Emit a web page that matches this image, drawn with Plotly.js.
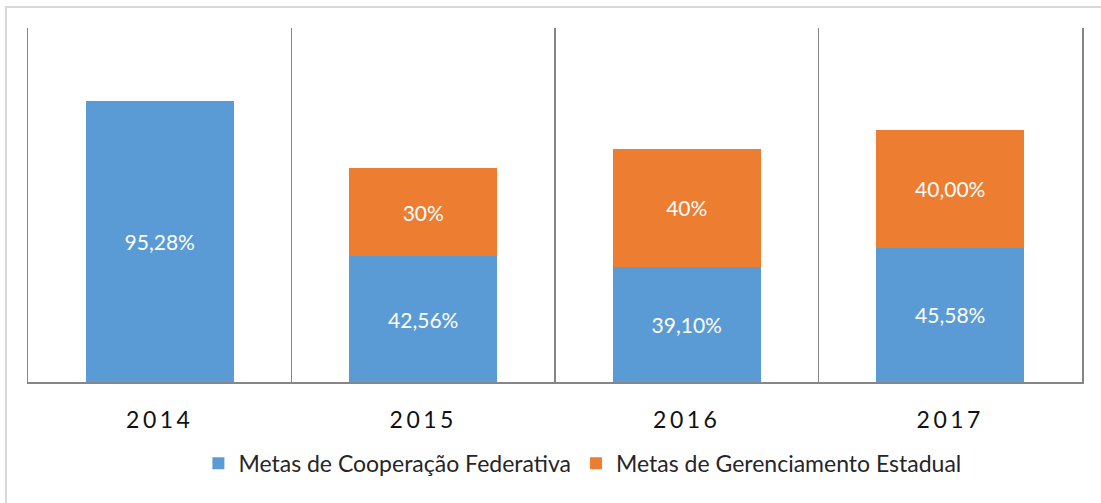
<!DOCTYPE html>
<html>
<head>
<meta charset="utf-8">
<script src="https://cdn.plot.ly/plotly-3.0.1.min.js"></script>
<style>
  html, body { margin: 0; padding: 0; background: #fff; }
  #chart { width: 1101px; height: 503px; position: relative; }
  #frame { position: absolute; left: 5px; top: 6px; width: 1200px; height: 600px; border: 2px solid #d9d9d9; pointer-events: none; }
  #wrap { position: relative; width: 1101px; height: 503px; overflow: hidden; }
  .xtick text { letter-spacing: 3.5px; }
</style>
</head>
<body>
<div id="wrap">
  <div id="chart"></div>
  <div id="frame"></div>
</div>
<script>
const years = ["2014", "2015", "2016", "2017"];
const federativa = [95.28, 42.56, 39.10, 45.58];
const federativaLabels = ["95,28%", "42,56%", "39,10%", "45,58%"];
const estadual = [0, 30, 40, 40];
const estadualLabels = ["", "30%", "40%", "40,00%"];
const seriesNames = ["Metas de Cooperação Federativa", "Metas de Gerenciamento Estadual"];

const fontFam = "Lato, 'Open Sans', sans-serif";

const traces = [
  {
    type: "bar", x: years, y: federativa, name: seriesNames[0],
    marker: { color: "#5B9BD5" },
    text: federativaLabels, textposition: "inside", insidetextanchor: "middle",
    textfont: { color: "#ffffff", size: 21, family: fontFam },
    hoverinfo: "none"
  },
  {
    type: "bar", x: years, y: estadual, name: seriesNames[1],
    marker: { color: "#ED7D31" },
    text: estadualLabels, textposition: "inside", insidetextanchor: "middle",
    textfont: { color: "#ffffff", size: 21, family: fontFam },
    hoverinfo: "none"
  }
];

const layout = {
  width: 1101, height: 503,
  margin: { l: 28, r: 19, t: 28, b: 121 },
  paper_bgcolor: "rgba(0,0,0,0)", plot_bgcolor: "#ffffff",
  barmode: "stack", bargap: 0.44,
  font: { family: fontFam, color: "#222222" },
  showlegend: true,
  legend: {
    orientation: "h", x: 0.526, xanchor: "center", y: -0.23, yanchor: "middle",
    font: { size: 23, family: fontFam, color: "#262626" },
    traceorder: "normal", itemwidth: 30
  },
  xaxis: {
    type: "category", showgrid: false, zeroline: false,
    showline: true, linecolor: "#868686", linewidth: 1.5,
    ticks: "", ticklabelstandoff: 17,
    tickfont: { size: 23, family: fontFam, color: "#111111" },
    fixedrange: true
  },
  xaxis2: {
    overlaying: "x", range: [-0.5, 3.5], showgrid: true,
    gridcolor: "#868686", gridwidth: 1.5,
    tickvals: [0.5, 1.5, 2.5], showticklabels: false,
    ticks: "", zeroline: false, showline: false, fixedrange: true
  },
  yaxis: {
    range: [0, 120], showgrid: false, zeroline: false,
    showline: true, mirror: true, linecolor: "#868686", linewidth: 1.5,
    showticklabels: false, ticks: "", fixedrange: true
  }
};

// invisible helper trace to activate xaxis2 gridlines
traces.push({ type: "scatter", x: [0], y: [0], xaxis: "x2", yaxis: "y", mode: "markers",
  marker: { opacity: 0 }, showlegend: false, hoverinfo: "none" });

Plotly.newPlot("chart", traces, layout, { staticPlot: true, displayModeBar: false });
</script>
</body>
</html>
